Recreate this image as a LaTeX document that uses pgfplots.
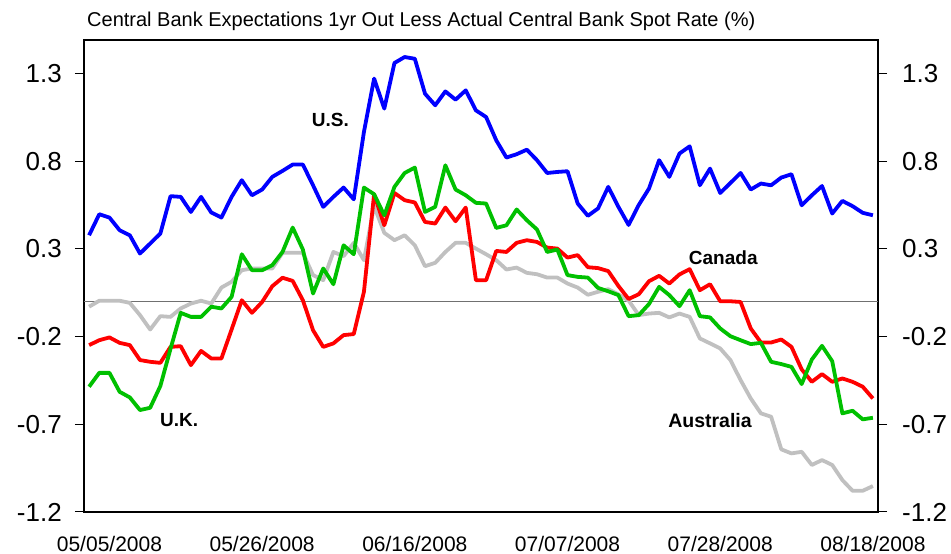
\documentclass[border=0pt]{standalone}
\usepackage{pgfplots}
\pgfplotsset{compat=1.18}
\usepackage{pgfplotstable}
\usepackage{fontspec}
\setmainfont{Liberation Sans}
\definecolor{cbblue}{HTML}{0000FF}
\definecolor{cbred}{HTML}{FF0000}
\definecolor{cbgreen}{HTML}{00C000}
\definecolor{cbgray}{HTML}{C0C0C0}
\definecolor{zeroline}{HTML}{707070}
\pgfplotstableread{
i us uk ca au
0 0.377 -0.486 -0.249 -0.030
1 0.497 -0.407 -0.221 0.004
2 0.478 -0.407 -0.205 0.004
3 0.406 -0.515 -0.236 0.004
4 0.377 -0.547 -0.249 -0.008
5 0.273 -0.619 -0.334 -0.078
6 0.330 -0.606 -0.344 -0.160
7 0.387 -0.482 -0.350 -0.084
8 0.600 -0.270 -0.259 -0.088
9 0.596 -0.065 -0.255 -0.040
10 0.510 -0.088 -0.363 -0.012
11 0.596 -0.088 -0.282 0.004
12 0.507 -0.030 -0.325 -0.012
13 0.478 -0.040 -0.325 0.079
14 0.596 0.026 -0.160 0.112
15 0.691 0.269 0.007 0.178
16 0.605 0.178 -0.065 0.188
17 0.638 0.178 -0.003 0.188
18 0.710 0.207 0.087 0.188
19 0.744 0.282 0.135 0.277
20 0.780 0.421 0.117 0.277
21 0.780 0.296 0.007 0.277
22 0.662 0.045 -0.164 0.150
23 0.539 0.188 -0.259 0.121
24 0.596 0.098 -0.239 0.282
25 0.649 0.320 -0.192 0.258
26 0.582 0.269 -0.186 0.334
27 0.966 0.649 0.055 0.235
28 1.270 0.611 0.611 0.543
29 1.099 0.491 0.434 0.391
30 1.359 0.653 0.618 0.349
31 1.393 0.732 0.577 0.377
32 1.383 0.763 0.564 0.320
33 1.184 0.510 0.453 0.201
34 1.118 0.539 0.444 0.220
35 1.197 0.776 0.535 0.282
36 1.150 0.638 0.457 0.334
37 1.203 0.605 0.535 0.334
38 1.089 0.562 0.121 0.301
39 1.051 0.558 0.121 0.269
40 0.918 0.419 0.288 0.235
41 0.820 0.434 0.282 0.182
42 0.839 0.524 0.334 0.193
43 0.865 0.463 0.349 0.163
44 0.805 0.410 0.339 0.155
45 0.732 0.282 0.307 0.136
46 0.738 0.296 0.301 0.136
47 0.742 0.150 0.250 0.102
48 0.558 0.140 0.264 0.079
49 0.488 0.136 0.195 0.038
50 0.530 0.077 0.190 0.055
51 0.653 0.058 0.173 0.070
52 0.539 0.036 0.088 0.040
53 0.436 -0.084 0.014 0.005
54 0.550 -0.078 0.041 -0.078
55 0.643 -0.015 0.115 -0.069
56 0.805 0.083 0.146 -0.065
57 0.710 0.036 0.102 -0.091
58 0.843 -0.027 0.154 -0.069
59 0.884 0.064 0.184 -0.088
60 0.662 -0.084 0.064 -0.211
61 0.757 -0.091 0.098 -0.239
62 0.618 -0.154 0.001 -0.268
63 0.675 -0.198 0.001 -0.334
64 0.732 -0.221 -0.003 -0.448
65 0.638 -0.243 -0.154 -0.553
66 0.672 -0.236 -0.234 -0.638
67 0.662 -0.344 -0.234 -0.657
68 0.706 -0.357 -0.217 -0.843
69 0.725 -0.373 -0.259 -0.866
70 0.548 -0.471 -0.387 -0.857
71 0.605 -0.331 -0.458 -0.932
72 0.658 -0.253 -0.414 -0.904
73 0.501 -0.340 -0.458 -0.932
74 0.573 -0.638 -0.439 -1.018
75 0.543 -0.623 -0.458 -1.079
76 0.505 -0.672 -0.486 -1.079
77 0.491 -0.663 -0.553 -1.052
}\cbdata
\begin{document}
\begin{tikzpicture}[x=1pt,y=1pt]
\useasboundingbox (0,0) rectangle (951,554);
\node[anchor=base west,inner sep=0pt,font=\fontsize{20}{20}\selectfont] at (87,527) {Central Bank Expectations 1yr Out Less Actual Central Bank Spot Rate (\%)};
% right axis (ticks and labels only)
\begin{axis}[
  at={(84pt,42pt)}, anchor=south west,
  scale only axis, width=794pt, height=472pt,
  xmin=-0.5, xmax=77.5, ymin=-1.2, ymax=1.49,
  axis x line=none, axis y line*=right,
  axis line style={black, line width=1.2pt, -},
  ytick={-1.2,-0.7,-0.2,0.3,0.8,1.3},
  yticklabels={-1.2,-0.7,-0.2,0.3,0.8,1.3},
  tick align=outside, major tick length=9pt,
  ytick style={black, line width=1pt},
  yticklabel style={font=\fontsize{26}{26}\selectfont, anchor=west, inner sep=0pt, xshift=15pt},
]
\addplot[draw=none] coordinates {(0,0)};
\end{axis}
\begin{axis}[
  at={(84pt,42pt)}, anchor=south west,
  scale only axis, width=794pt, height=472pt,
  xmin=-0.5, xmax=77.5, ymin=-1.2, ymax=1.49,
  axis line style={black, line width=1.2pt},
  ytick={-1.2,-0.7,-0.2,0.3,0.8,1.3},
  yticklabels={-1.2,-0.7,-0.2,0.3,0.8,1.3},
  ytick pos=left,
  tick align=outside, major tick length=9pt,
  ytick style={black, line width=1pt},
  yticklabel style={font=\fontsize{26}{26}\selectfont, anchor=east, inner sep=0pt, xshift=-13pt},
  xtick={2,17,32,47,62,77},
  xticklabels={05/05/2008,05/26/2008,06/16/2008,07/07/2008,07/28/2008,08/18/2008},
  xtick style={draw=none},
  xticklabel style={font=\fontsize{21}{21}\selectfont, anchor=north, inner sep=0pt, yshift=-15pt},
  clip=false,
]
\addplot[zeroline, line width=1.4pt] coordinates {(-0.5,0) (77.5,0)};
\addplot[cbgray, line width=3.8pt, line join=round] table[x=i,y=au] {\cbdata};
\addplot[cbred, line width=3.8pt, line join=round] table[x=i,y=ca] {\cbdata};
\addplot[cbgreen, line width=3.8pt, line join=round] table[x=i,y=uk] {\cbdata};
\addplot[cbblue, line width=3.8pt, line join=round] table[x=i,y=us] {\cbdata};
\node[font=\bfseries\fontsize{19}{19}\selectfont] at (axis cs:23.7,1.032) {U.S.};
\node[font=\bfseries\fontsize{19}{19}\selectfont] at (axis cs:8.85,-0.676) {U.K.};
\node[font=\bfseries\fontsize{19}{19}\selectfont] at (axis cs:62.3,0.252) {Canada};
\node[font=\bfseries\fontsize{19.5}{19.5}\selectfont] at (axis cs:61,-0.676) {Australia};
\end{axis}
\end{tikzpicture}
\end{document}
